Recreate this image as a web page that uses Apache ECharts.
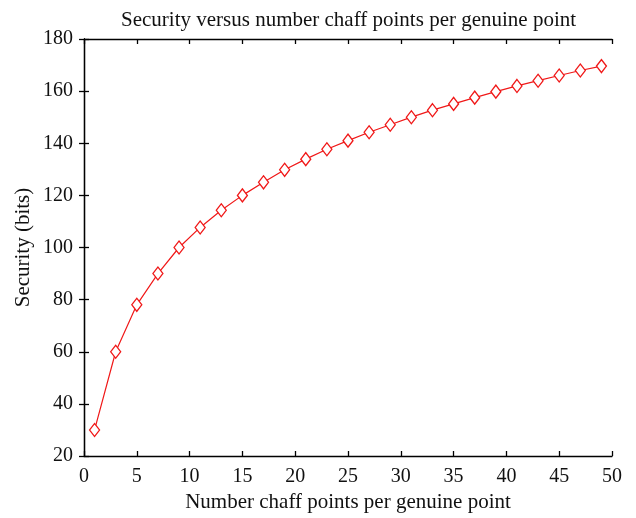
<!DOCTYPE html>
<html>
<head>
<meta charset="utf-8">
<script src="https://cdn.jsdelivr.net/npm/echarts@6/dist/echarts.min.js"></script>
<style>html,body{margin:0;padding:0;background:#fff}#c{width:636px;height:518px}</style>
</head>
<body>
<div id="c"></div>
<script>
const chaffPoints = [1,3,5,7,9,11,13,15,17,19,21,23,25,27,29,31,33,35,37,39,41,43,45,47,49];
const securityBits = [30,60,78,90,100,107.7,114.3,120,125,129.8,133.9,137.7,141,144.2,147.1,150,152.7,155.1,157.5,159.8,162,164,166,167.9,169.6];
const xTicks = [0,5,10,15,20,25,30,35,40,45,50];
const yTicks = [20,40,60,80,100,120,140,160,180];

const font = 'Liberation Serif';
const chart = echarts.init(document.getElementById('c'));
const axisBase = {
  axisLine: {show: true, lineStyle: {color: '#000', width: 1.3}},
  axisTick: {show: true, inside: true, length: 5, lineStyle: {color: '#000', width: 1.3}},
  splitLine: {show: false}
};
chart.setOption({
  animation: false,
  title: {
    text: 'Security versus number chaff points per genuine point',
    left: 116, top: 5,
    textStyle: {fontFamily: font, fontSize: 21, fontWeight: 'normal', color: '#111'}
  },
  grid: {left: 84, right: 24, top: 39, bottom: 62, containLabel: false, outerBoundsMode: 'none'},
  xAxis: [
    Object.assign({}, axisBase, {
      type: 'value', min: 0, max: 50, interval: 5, position: 'bottom',
      name: 'Number chaff points per genuine point', nameLocation: 'middle', nameGap: 36,
      nameMoveOverlap: false,
      nameTextStyle: {fontFamily: font, fontSize: 21, color: '#111'},
      axisLabel: {fontFamily: font, fontSize: 20, color: '#111', margin: 11,
        customValues: xTicks}
    }),
    Object.assign({}, axisBase, {
      type: 'value', min: 0, max: 50, interval: 5, position: 'top',
      axisLabel: {show: false}
    })
  ],
  yAxis: [
    Object.assign({}, axisBase, {
      type: 'value', min: 20, max: 180, interval: 20, position: 'left',
      name: 'Security (bits)', nameLocation: 'middle', nameGap: 50,
      nameMoveOverlap: false,
      nameTextStyle: {fontFamily: font, fontSize: 21, color: '#111'},
      axisLabel: {fontFamily: font, fontSize: 20, color: '#111', margin: 11,
        customValues: yTicks}
    }),
    Object.assign({}, axisBase, {
      type: 'value', min: 20, max: 180, interval: 20, position: 'right',
      axisLabel: {show: false}
    })
  ],
  series: [{
    type: 'line',
    data: chaffPoints.map((x, i) => [x, securityBits[i]]),
    symbol: 'diamond', symbolSize: [10, 13], showAllSymbol: true,
    lineStyle: {color: '#f01818', width: 1.2},
    itemStyle: {color: '#fff', borderColor: '#f01818', borderWidth: 1.3}
  }]
});
</script>
</body>
</html>
